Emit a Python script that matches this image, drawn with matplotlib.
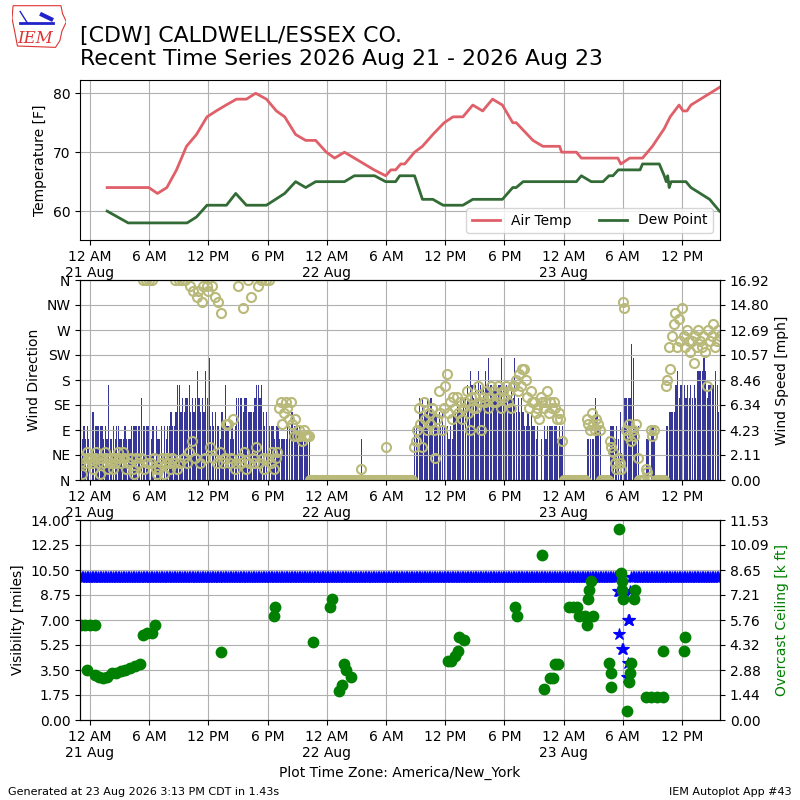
import numpy as np
import pandas as pd
import matplotlib
matplotlib.use('Agg')
import matplotlib.pyplot as plt
import matplotlib.dates as mdates
from matplotlib.ticker import FuncFormatter
from matplotlib.patches import Polygon

BASE = pd.Timestamp('2026-08-21 00:00')
X_START_H = -1.0   # 20 Aug 23:00
X_END_H = 63.85    # 23 Aug ~15:50
KT2MPH = 1.15078

# --- temperature panel (hours since 21 Aug 00:00) ---
temp_hours = [1.75, 2.8, 3.8, 4.8, 5.97, 6.85, 7.8, 8.78, 9.79, 10.8, 11.87, 12.8,
              13.8, 14.85, 15.86, 16.8, 17.89, 18.9, 19.74, 20.85, 21.87, 22.88,
              23.96, 24.8, 25.8, 26.8, 27.8, 28.8, 29.97, 30.5, 30.98, 31.5, 31.9,
              32.9, 33.7, 34.75, 35.9, 36.8, 37.8, 38.8, 39.8, 40.8, 41.8, 42.85,
              43.2, 44.9, 45.9, 47.6, 47.8, 49.3, 49.8, 53.5, 53.8, 54.7, 56.0,
              57.0, 58.2, 58.5, 58.8, 59.7, 60.1, 60.5, 60.9, 63.8]
temp_f = [64, 64, 64, 64, 64, 63, 64, 67, 71, 73, 76, 77,
          78, 79, 79, 80, 79, 77, 76, 73, 72, 72,
          70, 69, 70, 69, 68, 67, 66, 67, 67, 68, 68,
          70, 71, 73, 75, 76, 76, 78, 77, 79, 78, 75,
          75, 72, 71, 71, 70, 70, 69, 69, 68, 69, 69,
          71, 74, 75, 76, 78, 77, 77, 78, 81]

dwpt_hours = [1.75, 3.88, 9.85, 10.8, 11.87, 13.84, 14.78, 15.86, 17.89, 19.74,
              20.85, 21.87, 22.88, 25.8, 26.8, 28.85, 29.97, 30.98, 31.4, 32.9,
              33.7, 34.75, 35.8, 37.8, 38.8, 41.8, 42.85, 43.2, 43.9, 49.3, 49.8,
              50.8, 52.0, 52.6, 53.0, 53.55, 55.75, 56.0, 57.7, 58.2, 58.4, 58.55,
              58.7, 58.9, 60.4, 60.9, 62.8, 63.8]
dwpt_f = [60, 58, 58, 59, 61, 61, 63, 61, 61, 63,
          65, 64, 65, 65, 66, 66, 65, 65, 66, 66,
          62, 62, 61, 61, 62, 62, 64, 64, 65, 65, 66,
          65, 65, 66, 66, 67, 67, 68, 68, 66, 65, 66,
          64, 65, 65, 64, 62, 60]

# --- wind panel: one string per hour from 20 Aug 23:00, one hex char per 10 min [kt] ---
wind_kt = [
    "334343", "455444", "443437", "334344", "333433", "344444", "464444", "434043",
    "340434", "454457", "756566", "756568", "656586", "945454", "435474", "434346",
    "666566", "555567", "767545", "444434", "433333", "445544", "443333", "330000",
    "000000", "000000", "000000", "000000", "000300", "000000", "000000", "300000",
    "000000", "000004", "436565", "565655", "545454", "343435", "565656", "676876",
    "768767", "879777", "777797", "676676", "956565", "445454", "434030", "434444",
    "443434", "000000", "000000", "003333", "365440", "000044", "434352", "26666a",
    "944400", "003304", "430000", "004455", "557867", "876767", "676888", "898677",
    "778756",
]
# wind direction [deg], same 10 minute slots
wind_dir = [
    [30, 10, 40, 30, 50, 40], [40, 30, 20, 40, 50, 30], [10, 40, 30, 50, 40, 20],
    [30, 40, 20, 30, 40, 50], [40, 30, 50, 40, 20, 30], [30, 40, 20, 10, 40, 30],
    [30, 40, 360, 20, 360, 30], [360, 30, 360, 40, 20, 10], [20, 30, 40, 10, 30, 40],
    [30, 20, 40, 30, 360, 20], [360, 30, 360, 40, 360, 30], [50, 350, 70, 340, 40, 330],
    [340, 30, 320, 350, 40, 350], [340, 60, 350, 40, 330, 30], [320, 50, 300, 30, 40, 100],
    [100, 30, 40, 110, 20, 30], [350, 40, 30, 310, 50, 20], [360, 30, 330, 40, 30, 60],
    [350, 30, 360, 40, 20, 360], [40, 360, 30, 50, 20, 40], [50, 130, 140, 100, 120, 140],
    [130, 110, 140, 100, 80, 110], [80, 90, 80, 70, 90, 80], [80, 80, 0, 0, 0, 0],
    [0, 0, 0, 0, 0, 0], [0, 0, 0, 0, 0, 0], [0, 0, 0, 0, 0, 0], [0, 0, 0, 0, 0, 0],
    [0, 0, 0, 20, 0, 0], [0, 0, 0, 0, 0, 0], [0, 0, 0, 0, 0, 0], [60, 0, 0, 0, 0, 0],
    [0, 0, 0, 0, 0, 0], [0, 0, 0, 0, 0, 60], [70, 90, 130, 100, 60, 140],
    [110, 90, 120, 100, 130, 90], [40, 110, 160, 120, 90, 130], [170, 190, 120, 140, 110, 150],
    [130, 150, 120, 140, 110, 130], [140, 160, 120, 90, 150, 130], [150, 130, 170, 140, 90, 150],
    [140, 160, 130, 150, 170, 140], [160, 140, 170, 150, 130, 160], [150, 170, 140, 160, 130, 170],
    [170, 180, 160, 190, 170, 200], [200, 180, 150, 130, 160, 140], [140, 120, 130, 110, 150, 140],
    [130, 140, 160, 120, 140, 130], [140, 130, 110, 120, 110, 70], [0, 0, 0, 0, 0, 0],
    [0, 0, 0, 0, 0, 0], [0, 0, 110, 100, 90, 120], [100, 90, 110, 100, 90, 0],
    [0, 0, 0, 0, 70, 60], [50, 30, 20, 40, 30, 20], [320, 310, 90, 80, 100, 70],
    [90, 80, 100, 40, 0, 0], [0, 0, 20, 15, 0, 90], [80, 90, 0, 0, 0, 0],
    [0, 0, 170, 180, 240, 200], [260, 280, 300, 240, 290, 250], [310, 260, 240, 270, 250, 230],
    [250, 210, 260, 240, 270, 250], [240, 260, 230, 170, 270, 250], [260, 280, 240, 250, 270, 260],
]
gust_hours = [55.0, 61.75, 62.7]
gust_kt = [14, 14, 14]
wind_ymax = 16.917
dir_labels = ['N', 'NE', 'E', 'SE', 'S', 'SW', 'W', 'NW', 'N']

# --- visibility / ceiling panel ---
vis_normal = 10.0
low_vis_window = (53.45, 54.75)
low_vis_hours = [53.5, 53.6, 53.65, 53.75, 53.9, 54.0, 54.15, 54.45, 54.5, 54.55, 54.6, 54.65, 54.7]
low_vis_miles = [9, 9, 6, 9, 5, 5, 9, 3, 7, 4, 7, 7, 9]
vis_ymax = 14.0

ceil_hours = [-0.91, -0.51, 0.0, 0.51, -0.33, 0.51, 0.9, 1.35, 1.7, 2.2, 2.6, 3.2, 3.6,
              4.05, 4.55, 5.06, 5.4, 5.8, 6.25, 6.6, 13.3, 18.8, 18.7, 22.6, 24.5, 24.3,
              25.8, 26.0, 26.5, 25.5, 25.2, 36.3, 36.6, 36.95, 37.3, 37.45, 37.96, 43.1,
              43.3, 45.8, 46.05, 46.6, 46.9, 47.1, 47.4, 48.6, 49.0, 49.4, 49.6, 50.2,
              50.95, 50.35, 50.45, 50.6, 50.8, 52.6, 52.8, 52.8, 53.65, 53.85, 53.9, 53.95,
              54.0, 55.2, 55.1, 54.8, 54.7, 54.6, 54.4, 56.35, 56.9, 57.5, 58.05, 58.05,
              60.3, 60.2]
ceil_kft = [5.5, 5.5, 5.5, 5.5, 2.9, 2.6, 2.5, 2.4, 2.5, 2.7, 2.7, 2.8, 2.9,
            3.0, 3.1, 3.2, 4.9, 5.0, 5.0, 5.5, 3.9, 6.5, 6.0, 4.5, 7.0, 6.5,
            3.2, 2.9, 2.5, 2.0, 1.7, 3.4, 3.4, 3.7, 4.0, 4.8, 4.6, 6.5,
            6.0, 9.5, 1.8, 2.4, 2.4, 3.2, 3.2, 6.5, 6.5, 6.5, 6.0, 6.0,
            6.0, 5.5, 7.0, 7.5, 8.0, 3.3, 2.7, 1.9, 11.0, 8.5, 8.0, 7.5,
            7.0, 7.5, 7.0, 3.3, 2.7, 2.2, 0.5, 1.3, 1.3, 1.3, 1.3, 4.0,
            4.8, 4.0]
ceil_ymax = 11.53


def to_dt(hours):
    return BASE + pd.to_timedelta(np.asarray(hours, dtype=float), unit='h')


def fmt_time(x, pos):
    d = mdates.num2date(x)
    s = d.strftime('%-I %p')
    if d.hour == 0:
        s += d.strftime('\n%-d %b')
    return s


def setup_time_axis(ax):
    ax.xaxis.set_major_locator(mdates.HourLocator(byhour=[0, 6, 12, 18]))
    ax.xaxis.set_major_formatter(FuncFormatter(fmt_time))
    ax.set_xlim(to_dt([X_START_H, X_END_H]))
    ax.grid(True)


# slot arrays for the 10 minute wind data
speed_kt = np.array([int(c, 16) for h in wind_kt for c in h])
dirs = np.array([d for h in wind_dir for d in h])
slot_hours = X_START_H + np.arange(len(speed_kt)) / 6.0

fig = plt.figure(figsize=(8, 8), dpi=100)

# ---------------- temperature ----------------
ax1 = fig.add_axes([0.1, 0.7, 0.8, 0.2])
ax1.plot(to_dt(temp_hours), temp_f, color='#e0606a', lw=2, label='Air Temp')
ax1.plot(to_dt(dwpt_hours), dwpt_f, color='#336b36', lw=2, label='Dew Point')
ax1.set_ylim(55.1, 82.25)
ax1.set_yticks([60, 70, 80])
ax1.set_ylabel('Temperature [F]')
ax1.legend(loc='lower right', ncol=2)
setup_time_axis(ax1)

# ---------------- wind ----------------
ax2 = fig.add_axes([0.1, 0.4, 0.8, 0.25])
ax2s = ax2.twinx()
ax2s.bar(to_dt(slot_hours), speed_kt * KT2MPH, width=7.5 / 1440., align='edge',
         color='#373799', lw=0)
ax2s.bar(to_dt(gust_hours), np.array(gust_kt) * KT2MPH, width=1.5 / 1440.,
         color='#8c8cff', lw=0)
ax2.plot(to_dt(slot_hours), dirs, 'o', mfc='none', mec='#b9b97a', ms=6.5, mew=1.5)
ax2.set_zorder(ax2s.get_zorder() + 1)
ax2.patch.set_visible(False)
ax2.set_ylim(0, 360)
ax2.set_yticks(np.arange(0, 361, 45))
ax2.set_yticklabels(dir_labels)
ax2.set_ylabel('Wind Direction')
ax2s.set_ylim(0, wind_ymax)
ax2s.set_yticks(np.linspace(0, wind_ymax, 9))
ax2s.yaxis.set_major_formatter('{x:.2f}')
ax2s.set_ylabel('Wind Speed [mph]')
setup_time_axis(ax2)

# ---------------- visibility / ceiling ----------------
ax3 = fig.add_axes([0.1, 0.1, 0.8, 0.25])
ax3c = ax3.twinx()
normal = (slot_hours < low_vis_window[0]) | (slot_hours > low_vis_window[1])
vh = np.concatenate([slot_hours[normal], low_vis_hours])
vm = np.concatenate([np.full(normal.sum(), vis_normal), low_vis_miles])
ax3.plot(to_dt(vh), vm, '*', color='b', ms=9, mew=0.8)
ax3c.plot(to_dt(ceil_hours), ceil_kft, 'o', color='g', ms=8.5, mew=0)
ax3.set_ylim(0, vis_ymax)
ax3.set_yticks(np.linspace(0, vis_ymax, 9))
ax3.yaxis.set_major_formatter('{x:.2f}')
ax3.set_ylabel('Visibility [miles]')
ax3c.set_ylim(0, ceil_ymax)
ax3c.set_yticks(np.linspace(0, ceil_ymax, 9))
ax3c.yaxis.set_major_formatter('{x:.2f}')
ax3c.set_ylabel('Overcast Ceiling [k ft]', color='g')
ax3.set_xlabel('Plot Time Zone: America/New_York')
setup_time_axis(ax3)

# ---------------- titles / footer ----------------
fig.text(0.1, 0.914, "[CDW] CALDWELL/ESSEX CO.\nRecent Time Series 2026 Aug 21 - 2026 Aug 23",
         fontsize=15.8, ha='left', va='bottom')
fig.text(0.01, 0.006, 'Generated at 23 Aug 2026 3:13 PM CDT in 1.43s', fontsize=8)
fig.text(0.99, 0.006, 'IEM Autoplot App #43', fontsize=8, ha='right')

# small IEM logo
lax = fig.add_axes([0.015, 0.938, 0.068, 0.056])
lax.set_xlim(0, 1)
lax.set_ylim(0, 1)
lax.axis('off')
lax.add_patch(Polygon([[0.02, 0.98], [0.9, 0.98], [0.93, 0.8], [1.0, 0.62], [0.92, 0.42],
                       [0.88, 0.2], [0.8, 0.05], [0.1, 0.08], [0.05, 0.4], [0.0, 0.7]],
                      closed=True, fill=False, ec='#dd3333', lw=0.8))
lax.plot([0.15, 0.75], [0.6, 0.6], color='#2222cc', lw=2)
lax.plot([0.15, 0.28], [0.85, 0.6], color='#2222cc', lw=1)
lax.plot([0.55, 0.72], [0.78, 0.68], color='#2222cc', lw=3)
lax.text(0.42, 0.06, 'IEM', color='#dd3333', fontsize=12, family='serif',
         style='italic', ha='center', va='bottom')

fig.savefig('out.png', dpi=100)
